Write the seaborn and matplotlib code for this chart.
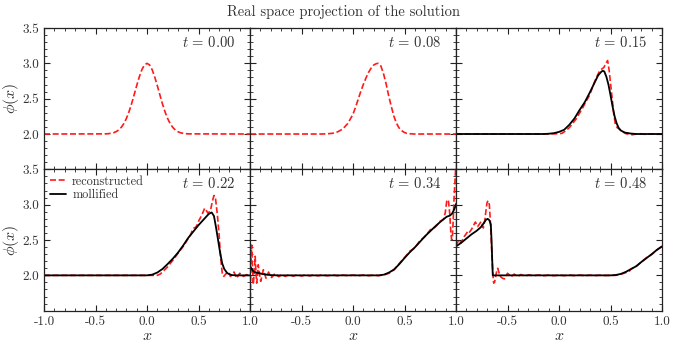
import matplotlib
matplotlib.use("Agg")
import matplotlib.pyplot as plt
from matplotlib.ticker import FixedLocator, MultipleLocator
import numpy as np
import pandas as pd
import seaborn as sns

# ---------------- data ----------------
times = ["0.00", "0.08", "0.15", "0.22", "0.34", "0.48"]
x_ticks = [-1.0, -0.5, 0.0, 0.5, 1.0]
y_ticks = [2.0, 2.5, 3.0, 3.5]
y_tick_labels = ["2.0", "2.5", "3.0", "3.5"]

# t = 0.00 (reconstructed only)
rec0_x = [-1.0, -0.4, -0.375, -0.35, -0.325, -0.3, -0.275, -0.25, -0.225, -0.2, -0.175, -0.15,
          -0.125, -0.1, -0.075, -0.05, -0.025, 0.0, 0.025, 0.05, 0.075, 0.1, 0.125, 0.15,
          0.175, 0.2, 0.225, 0.25, 0.275, 0.3, 0.325, 0.35, 0.375, 0.4, 1.0]
rec0_y = [2.0, 2.002, 2.005, 2.010, 2.018, 2.033, 2.057, 2.094, 2.147, 2.220, 2.314, 2.427,
          2.554, 2.685, 2.808, 2.910, 2.977, 3.0, 2.977, 2.910, 2.808, 2.685, 2.554, 2.427,
          2.314, 2.220, 2.147, 2.094, 2.057, 2.033, 2.018, 2.010, 2.005, 2.002, 2.0]

# t = 0.08 (reconstructed only)
rec1_x = [-1.0, -0.3, -0.25, -0.2, -0.15, -0.1, -0.05, 0.0, 0.025, 0.05, 0.075, 0.1, 0.125,
          0.15, 0.175, 0.2, 0.225, 0.245, 0.27, 0.295, 0.32, 0.345, 0.37, 0.395, 0.42,
          0.445, 0.47, 0.495, 0.52, 0.55, 0.6, 1.0]
rec1_y = [2.0, 2.0, 2.003, 2.01, 2.03, 2.07, 2.15, 2.28, 2.38, 2.49, 2.60, 2.70, 2.79,
          2.87, 2.93, 2.975, 2.995, 3.0, 2.965, 2.86, 2.72, 2.55, 2.40, 2.26, 2.16,
          2.09, 2.05, 2.025, 2.01, 2.004, 2.0, 2.0]

# t = 0.15
rec2_x = [-1.0, -0.1, 0.0, 0.03, 0.07, 0.1, 0.133, 0.165, 0.197, 0.23, 0.262, 0.29, 0.31,
          0.335, 0.36, 0.39, 0.415, 0.435, 0.455, 0.472, 0.487, 0.5, 0.515, 0.53, 0.547,
          0.565, 0.585, 0.6, 0.625, 0.65, 0.68, 0.715, 0.75, 0.78, 0.81, 0.845, 0.88, 0.92, 1.0]
rec2_y = [2.0, 2.0, 2.005, 2.01, 2.05, 2.09, 2.15, 2.21, 2.29, 2.37, 2.46, 2.53, 2.60,
          2.70, 2.79, 2.88, 2.92, 2.94, 3.0, 3.04, 2.90, 2.72, 2.52, 2.30, 2.14,
          2.09, 2.07, 2.05, 2.025, 2.005, 1.995, 1.99, 2.0, 2.006, 2.0, 1.994, 2.002, 2.0, 2.0]
mol2_x = [-1.0, -0.15, -0.1, -0.05, 0.0, 0.05, 0.1, 0.15, 0.2, 0.25, 0.3, 0.35, 0.38, 0.41,
          0.425, 0.44, 0.46, 0.48, 0.5, 0.52, 0.54, 0.56, 0.58, 0.6, 0.64, 0.7, 0.75, 1.0]
mol2_y = [2.0, 2.0, 2.004, 2.012, 2.03, 2.06, 2.13, 2.22, 2.34, 2.45, 2.59, 2.74, 2.83, 2.88,
          2.895, 2.885, 2.81, 2.70, 2.55, 2.39, 2.25, 2.15, 2.085, 2.05, 2.02, 2.006, 2.0, 2.0]

# t = 0.22
rec3_x = [-1.0, 0.1, 0.13, 0.165, 0.2, 0.23, 0.26, 0.294, 0.33, 0.36, 0.39, 0.424, 0.44,
          0.456, 0.472, 0.489, 0.505, 0.52, 0.54, 0.56, 0.575, 0.592, 0.605, 0.618, 0.635,
          0.65, 0.665, 0.683, 0.70, 0.715, 0.731, 0.745, 0.765, 0.786, 0.81, 0.83, 0.845,
          0.87, 0.9, 0.935, 0.967, 1.0]
rec3_y = [2.0, 2.0, 2.02, 2.07, 2.12, 2.175, 2.23, 2.30, 2.37, 2.425, 2.50, 2.575, 2.64,
          2.67, 2.68, 2.72, 2.78, 2.82, 2.88, 2.95, 2.92, 2.88, 2.90, 2.93, 3.05,
          3.13, 3.09, 2.86, 2.575, 2.245, 2.03, 1.985, 2.02, 2.055, 1.985, 2.01, 2.047,
          1.96, 2.03, 1.985, 2.01, 2.0]
mol3_x = [-1.0, 0.0, 0.05, 0.1, 0.15, 0.2, 0.25, 0.3, 0.35, 0.4, 0.45, 0.5, 0.55, 0.6,
          0.628, 0.65, 0.67, 0.69, 0.71, 0.73, 0.75, 0.78, 0.82, 0.86, 1.0]
mol3_y = [2.0, 2.0, 2.01, 2.04, 2.09, 2.16, 2.235, 2.32, 2.42, 2.53, 2.62, 2.71, 2.79, 2.87,
          2.89, 2.84, 2.68, 2.50, 2.32, 2.17, 2.09, 2.03, 2.005, 2.0, 2.0]

# t = 0.34
rec4_x = [-1.0, -0.992, -0.984, -0.976, -0.968, -0.958, -0.95, -0.942, -0.935, -0.927, -0.92,
          -0.908, -0.896, -0.883, -0.87, -0.857, -0.845, -0.832, -0.82, -0.805, -0.79, -0.772,
          -0.754, -0.737, -0.72, -0.69, -0.657, -0.62, -0.58, -0.54, -0.5, -0.46, -0.42, -0.38,
          -0.34, -0.3, -0.25, -0.2, -0.15, -0.1, -0.05, 0.0, 0.05, 0.1, 0.15, 0.2, 0.25, 0.3,
          0.35, 0.4, 0.45, 0.5, 0.55, 0.6, 0.65, 0.7, 0.75, 0.78, 0.81, 0.845, 0.877, 0.895,
          0.91, 0.926, 0.94, 0.95, 0.958, 0.965, 0.972, 0.98, 0.99, 1.0]
rec4_y = [1.3, 2.1, 2.43, 2.1, 1.87, 2.05, 2.27, 2.05, 1.89, 2.0, 2.15,
          2.02, 1.915, 2.0, 2.08, 2.02, 1.96, 2.0, 2.047, 2.0, 1.97, 2.0,
          2.03, 2.0, 1.98, 2.015, 1.985, 2.012, 1.988, 2.01, 1.99, 2.008, 1.992, 2.007,
          1.993, 2.006, 1.994, 2.005, 1.995, 2.004, 1.996, 2.004, 1.996, 2.004, 1.996, 2.003, 1.997, 2.005,
          2.03, 2.08, 2.17, 2.25, 2.34, 2.39, 2.49, 2.55, 2.645, 2.66, 2.70, 2.765, 2.79, 2.88,
          3.05, 3.07, 2.86, 2.6, 2.50, 2.55, 2.75, 3.05, 3.33, 3.6]
mol4_x = [-1.0, -0.984, -0.968, -0.94, -0.903, -0.87, -0.838, -0.8, -0.74, 0.25, 0.3, 0.35,
          0.4, 0.45, 0.5, 0.55, 0.6, 0.65, 0.7, 0.75, 0.8, 0.85, 0.88, 0.91, 0.94, 0.96,
          0.975, 0.99, 1.0]
mol4_y = [2.13, 2.09, 2.057, 2.04, 2.028, 2.017, 2.01, 2.004, 2.0, 2.0, 2.01, 2.04,
          2.085, 2.16, 2.245, 2.325, 2.395, 2.475, 2.555, 2.625, 2.695, 2.76, 2.795, 2.83, 2.845, 2.87,
          2.91, 2.96, 3.01]

# t = 0.48
rec5_x = [-1.0, -0.984, -0.968, -0.955, -0.94, -0.92, -0.9, -0.887, -0.875, -0.864, -0.85,
          -0.838, -0.825, -0.812, -0.8, -0.79, -0.775, -0.757, -0.745, -0.735, -0.72, -0.71,
          -0.7, -0.69, -0.676, -0.663, -0.65, -0.641, -0.634, -0.626, -0.618, -0.605, -0.595,
          -0.583, -0.57, -0.55, -0.53, -0.515, -0.5, -0.483, -0.466, -0.45, -0.434, -0.417,
          -0.4, -0.37, -0.33, -0.29, -0.25, -0.2, -0.15, -0.1, -0.05, 0.0, 0.05, 0.1, 0.15,
          0.2, 0.25, 0.3, 0.35, 0.4, 0.45, 0.5, 0.55, 0.6, 0.65, 0.683, 0.7, 0.748, 0.8,
          0.85, 0.9, 0.95, 1.0]
rec5_y = [2.41, 2.47, 2.50, 2.46, 2.49, 2.55, 2.59, 2.62, 2.60, 2.62, 2.65,
          2.68, 2.72, 2.755, 2.72, 2.69, 2.72, 2.76, 2.72, 2.67, 2.78, 2.905,
          3.02, 3.057, 3.0, 2.67, 2.245, 2.0, 1.89, 1.90, 1.96, 2.06, 2.10,
          2.04, 1.985, 1.96, 1.95, 1.99, 2.03, 2.01, 1.98, 2.0, 2.018, 2.0,
          1.985, 2.012, 1.99, 2.008, 1.993, 2.006, 1.994, 2.005, 1.995, 2.004, 1.996, 2.004, 1.996,
          2.004, 1.996, 2.003, 1.997, 2.003, 1.998, 2.0, 2.0, 2.015, 2.04, 2.06, 2.09, 2.125, 2.19,
          2.25, 2.295, 2.36, 2.41]
mol5_x = [-1.0, -0.95, -0.9, -0.85, -0.8, -0.76, -0.73, -0.71, -0.693, -0.676, -0.662, -0.655,
          -0.648, -0.643, 0.5, 0.55, 0.6, 0.65, 0.7, 0.75, 0.8, 0.85, 0.9, 0.95, 1.0]
mol5_y = [2.41, 2.46, 2.52, 2.58, 2.63, 2.68, 2.74, 2.785, 2.80, 2.78, 2.72, 2.5,
          2.2, 2.0, 2.0, 2.005, 2.02, 2.05, 2.09, 2.13, 2.19, 2.245, 2.30, 2.36, 2.41]

reconstructed = [(rec0_x, rec0_y), (rec1_x, rec1_y), (rec2_x, rec2_y),
                 (rec3_x, rec3_y), (rec4_x, rec4_y), (rec5_x, rec5_y)]
mollified = [None, None, (mol2_x, mol2_y), (mol3_x, mol3_y), (mol4_x, mol4_y), (mol5_x, mol5_y)]

# ---------------- style ----------------
sns.set_style("ticks")
text_color = "#333333"
plt.rcParams.update({
    "font.family": ["cmr10", "DejaVu Serif"],
    "mathtext.fontset": "cm",
    "axes.unicode_minus": False,
    "axes.formatter.use_mathtext": True,
    "text.color": text_color,
    "axes.labelcolor": text_color,
    "xtick.color": "#222222",
    "ytick.color": "#222222",
    "xtick.labelcolor": text_color,
    "ytick.labelcolor": text_color,
    "axes.edgecolor": "#222222",
    "axes.linewidth": 0.9,
})

fig, axes = plt.subplots(2, 3, figsize=(6.77, 3.49), dpi=100)
fig.subplots_adjust(left=44 / 677, right=662 / 677, top=1 - 28 / 349, bottom=1 - 310.7 / 349,
                    wspace=0, hspace=0)

for i, ax in enumerate(axes.flat):
    row, col = divmod(i, 3)
    rx, ry = reconstructed[i]
    df_r = pd.DataFrame({"x": rx, "phi": ry})
    sns.lineplot(data=df_r, x="x", y="phi", ax=ax, color="#ff1a1a", lw=1.2,
                 estimator=None, sort=False, label="reconstructed" if i == 3 else None)
    ax.lines[-1].set_dashes([3.6, 1.6])
    if mollified[i] is not None:
        mx, my = mollified[i]
        df_m = pd.DataFrame({"x": mx, "phi": my})
        sns.lineplot(data=df_m, x="x", y="phi", ax=ax, color="black", lw=1.3,
                     estimator=None, sort=False, label="mollified" if i == 3 else None)
    ax.set_xlim(-1.0, 1.0)
    ax.set_ylim(1.5, 3.5)
    ax.xaxis.set_major_locator(FixedLocator(x_ticks))
    ax.yaxis.set_major_locator(FixedLocator(y_ticks))
    ax.xaxis.set_minor_locator(MultipleLocator(0.1))
    ax.yaxis.set_minor_locator(MultipleLocator(0.1))
    ax.tick_params(which="both", direction="in", top=True, right=True, labelsize=9.5)
    ax.tick_params(which="major", length=4.5, width=0.8)
    ax.tick_params(which="minor", length=2.5, width=0.6)
    if row == 1:
        labels = ["%.1f" % v for v in x_ticks]
        if col > 0:
            labels[0] = ""
        ax.set_xticklabels(labels)
        ax.set_xlabel(r"$x$", fontsize=11.5, labelpad=1)
    else:
        ax.set_xticklabels([])
        ax.set_xlabel("")
    if col == 0:
        ax.set_yticklabels(y_tick_labels)
        ax.set_ylabel(r"$\phi(x)$", fontsize=11.5)
        ax.yaxis.set_label_coords(-0.112, 0.5)
    else:
        ax.set_yticklabels([])
        ax.set_ylabel("")
    ax.text(0.93, 0.90, r"$t\,=\,%s$" % times[i], transform=ax.transAxes,
            ha="right", va="center", fontsize=10.5, color=text_color)
    if i == 3:
        ax.legend(loc="upper left", bbox_to_anchor=(0.0, 1.0), frameon=False,
                  fontsize=8.8, handlelength=1.3, handletextpad=0.5, labelspacing=0.1,
                  borderaxespad=0.3, borderpad=0.2)
    elif ax.get_legend() is not None:
        ax.get_legend().remove()

fig.suptitle("Real space projection of the solution", x=0.507, y=0.966, fontsize=10.5,
             color=text_color, va="center")

fig.savefig("out.png", dpi=100)
